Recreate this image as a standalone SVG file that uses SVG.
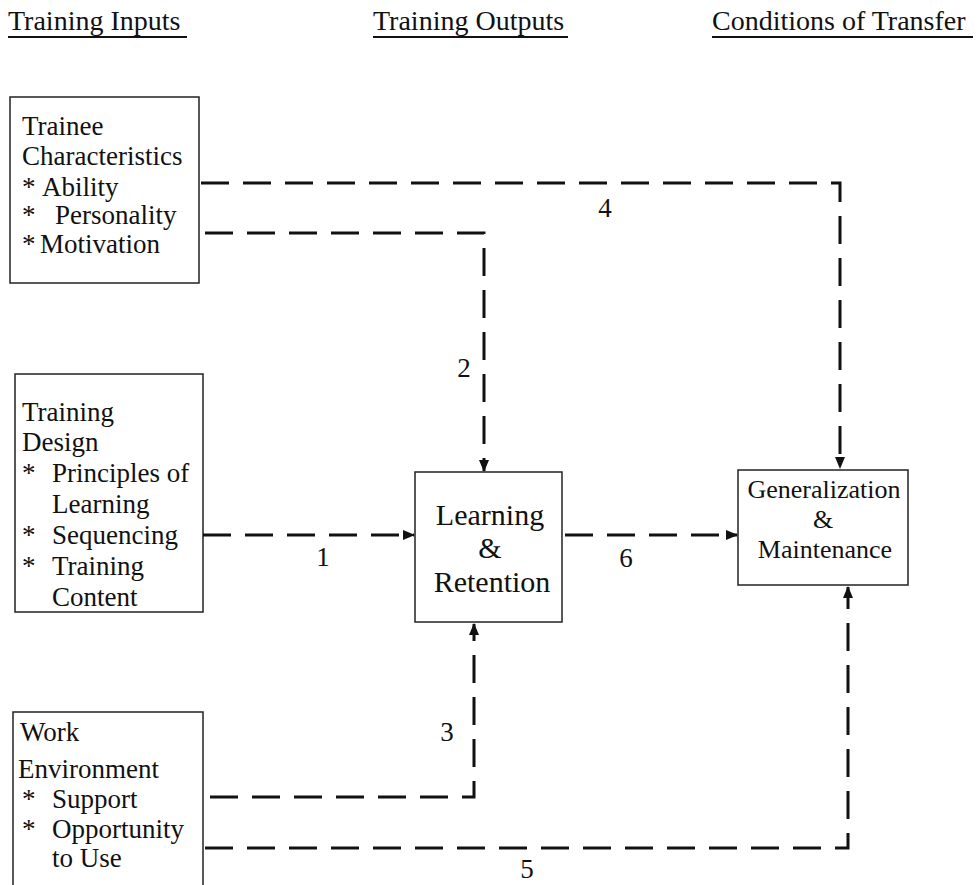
<svg xmlns="http://www.w3.org/2000/svg" width="978" height="885" viewBox="0 0 978 885">
<defs>
<style>
text{font-family:"Liberation Serif","Times New Roman",serif;fill:#111;}
.hd{font-size:28px;}
.t{font-size:27px;}
.d{font-size:27px;}
.big{font-size:30px;text-anchor:middle;}
.g{font-size:26px;text-anchor:middle;}
.lbl{font-size:27px;text-anchor:middle;}
.box{fill:#fff;stroke:#222;stroke-width:1.5;}
.ul{stroke:#111;stroke-width:2;}
.con{fill:none;stroke:#111;stroke-width:3;stroke-dasharray:28 14;}
</style>
<marker id="arr" markerWidth="12" markerHeight="12" refX="11" refY="6" orient="auto" markerUnits="userSpaceOnUse">
<path d="M0,1 L12,6 L0,11 Z" fill="#111"/>
</marker>
</defs>
<rect width="978" height="885" fill="#fff"/>

<g id="headers">
<text class="hd" x="8" y="30">Training Inputs</text>
<line class="ul" x1="8" y1="37" x2="187" y2="37"/>
<text class="hd" x="373" y="30">Training Outputs</text>
<line class="ul" x1="373" y1="37" x2="568" y2="37"/>
<text class="hd" x="712" y="30">Conditions of Transfer</text>
<line class="ul" x1="712" y1="37" x2="973" y2="37"/>
</g>

<g id="trainee">
<rect class="box" x="10" y="97" width="189" height="186"/>
<text class="t" x="22" y="135">Trainee</text>
<text class="t" x="22" y="165">Characteristics</text>
<text class="t" x="22" y="196">*</text>
<text class="t" x="42" y="196">Ability</text>
<text class="t" x="22" y="224">*</text>
<text class="t" x="55" y="224">Personality</text>
<text class="t" x="22" y="253">*</text>
<text class="t" x="40" y="253">Motivation</text>
</g>

<g id="design">
<rect class="box" x="15" y="374" width="188" height="238"/>
<text class="d" x="22" y="421">Training</text>
<text class="d" x="22" y="451">Design</text>
<text class="d" x="22" y="482">*</text>
<text class="d" x="52" y="482">Principles of</text>
<text class="d" x="52" y="513">Learning</text>
<text class="d" x="22" y="544">*</text>
<text class="d" x="52" y="544">Sequencing</text>
<text class="d" x="22" y="575">*</text>
<text class="d" x="52" y="575">Training</text>
<text class="d" x="52" y="606">Content</text>
</g>

<g id="work">
<rect class="box" x="13" y="712" width="190" height="190"/>
<text class="t" x="20" y="741">Work</text>
<text class="t" x="18" y="778">Environment</text>
<text class="t" x="22" y="808">*</text>
<text class="t" x="52" y="808">Support</text>
<text class="t" x="22" y="838">*</text>
<text class="t" x="52" y="838">Opportunity</text>
<text class="t" x="52" y="867">to Use</text>
</g>

<g id="learning">
<rect class="box" x="415" y="472" width="147" height="150"/>
<text class="big" x="490" y="525">Learning</text>
<text class="big" x="490" y="558">&amp;</text>
<text class="big" x="492" y="592">Retention</text>
</g>

<g id="generalization">
<rect class="box" x="738" y="470" width="170" height="115"/>
<text class="g" x="824" y="498">Generalization</text>
<text class="g" x="823" y="528">&amp;</text>
<text class="g" x="825" y="558">Maintenance</text>
</g>

<g id="connectors">
<path class="con" d="M201,183 H840 V468" marker-end="url(#arr)"/>
<path class="con" d="M205,233 H484 V471" marker-end="url(#arr)"/>
<path class="con" d="M203,535 H414" marker-end="url(#arr)"/>
<path class="con" d="M565,535 H737" marker-end="url(#arr)"/>
<path class="con" d="M210,797 H474 V624" marker-end="url(#arr)"/>
<path class="con" d="M205,848 H848 V587" marker-end="url(#arr)"/>
<text class="lbl" x="605" y="217">4</text>
<text class="lbl" x="464" y="377">2</text>
<text class="lbl" x="323" y="566">1</text>
<text class="lbl" x="626" y="567">6</text>
<text class="lbl" x="447" y="741">3</text>
<text class="lbl" x="527" y="878">5</text>
</g>
</svg>
